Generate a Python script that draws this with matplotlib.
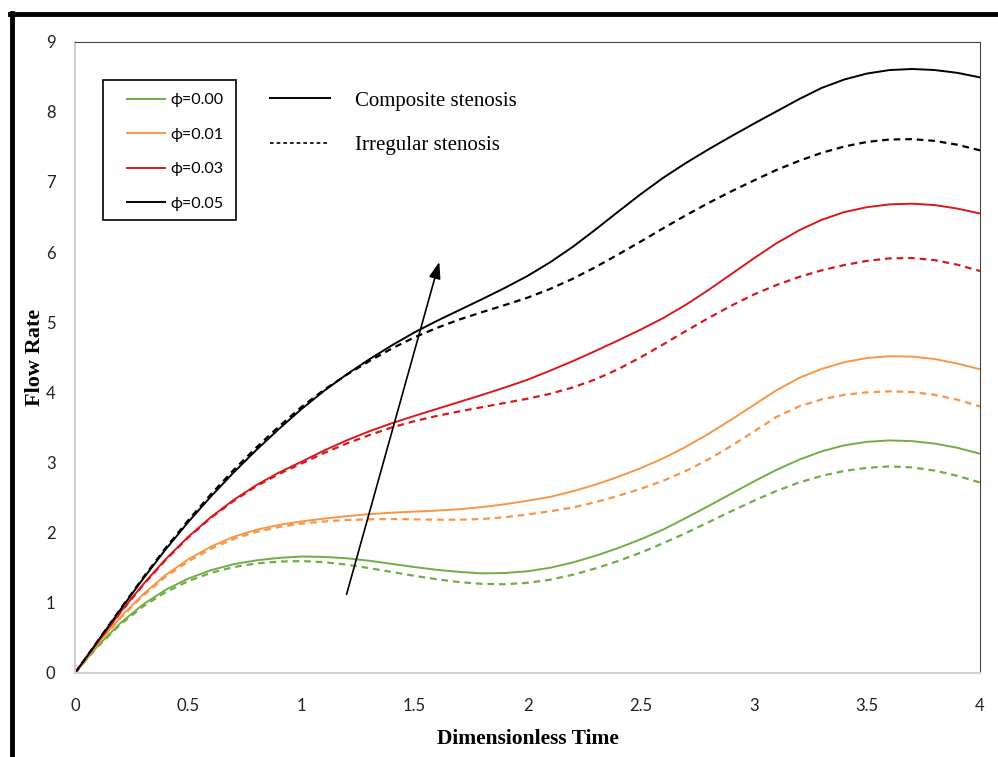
import matplotlib
matplotlib.use("Agg")
import matplotlib.pyplot as plt
from matplotlib.lines import Line2D
from matplotlib.patches import Rectangle

# ---------------------------------------------------------------
# Data
# ---------------------------------------------------------------
temps = [0.0, 0.1, 0.2, 0.3, 0.4, 0.5, 0.6, 0.7, 0.8, 0.9,
         1.0, 1.1, 1.2, 1.3, 1.4, 1.5, 1.6, 1.7, 1.8, 1.9,
         2.0, 2.1, 2.2, 2.3, 2.4, 2.5, 2.6, 2.7, 2.8, 2.9,
         3.0, 3.1, 3.2, 3.3, 3.4, 3.5, 3.6, 3.7, 3.8, 3.9, 4.0]

# composite stenosis (solid)
comp_000 = [0, 0.385, 0.71, 0.975, 1.185, 1.345, 1.465, 1.55, 1.605, 1.64,
            1.66, 1.655, 1.635, 1.60, 1.555, 1.51, 1.47, 1.44, 1.42, 1.425,
            1.45, 1.50, 1.575, 1.67, 1.78, 1.905, 2.045, 2.21, 2.38, 2.555,
            2.73, 2.895, 3.04, 3.16, 3.245, 3.295, 3.315, 3.305, 3.27, 3.21, 3.125]
comp_001 = [0, 0.42, 0.795, 1.12, 1.395, 1.62, 1.80, 1.94, 2.04, 2.11,
            2.16, 2.20, 2.235, 2.265, 2.285, 2.30, 2.315, 2.335, 2.365, 2.405,
            2.455, 2.51, 2.59, 2.685, 2.795, 2.92, 3.06, 3.225, 3.41, 3.61,
            3.82, 4.03, 4.205, 4.335, 4.43, 4.49, 4.515, 4.51, 4.475, 4.41, 4.33]
comp_003 = [0, 0.44, 0.865, 1.26, 1.62, 1.94, 2.22, 2.465, 2.675, 2.855,
            3.01, 3.17, 3.315, 3.445, 3.56, 3.665, 3.765, 3.865, 3.965, 4.07,
            4.18, 4.31, 4.445, 4.59, 4.74, 4.895, 5.06, 5.25, 5.46, 5.685,
            5.91, 6.125, 6.31, 6.46, 6.57, 6.64, 6.68, 6.69, 6.67, 6.62, 6.55]
comp_005 = [0, 0.45, 0.90, 1.34, 1.76, 2.15, 2.515, 2.855, 3.175, 3.475,
            3.76, 4.02, 4.255, 4.47, 4.67, 4.855, 5.02, 5.175, 5.33, 5.49,
            5.66, 5.855, 6.075, 6.32, 6.575, 6.825, 7.06, 7.27, 7.465, 7.65,
            7.83, 8.005, 8.18, 8.34, 8.46, 8.545, 8.595, 8.61, 8.595, 8.555, 8.49]

# irregular stenosis (dashed)
irr_000 = [0, 0.375, 0.69, 0.948, 1.151, 1.309, 1.427, 1.509, 1.561, 1.588,
           1.595, 1.58, 1.545, 1.495, 1.44, 1.385, 1.335, 1.295, 1.27, 1.265,
           1.285, 1.33, 1.40, 1.49, 1.595, 1.715, 1.85, 1.995, 2.15, 2.305,
           2.455, 2.595, 2.715, 2.81, 2.88, 2.925, 2.945, 2.93, 2.885, 2.81, 2.715]
irr_001 = [0, 0.41, 0.78, 1.10, 1.37, 1.59, 1.77, 1.91, 2.01, 2.08,
           2.13, 2.16, 2.18, 2.19, 2.195, 2.19, 2.185, 2.185, 2.195, 2.22,
           2.26, 2.305, 2.36, 2.435, 2.525, 2.625, 2.74, 2.88, 3.045, 3.235,
           3.44, 3.65, 3.80, 3.90, 3.965, 4.00, 4.015, 4.005, 3.965, 3.895, 3.80]
irr_003 = [0, 0.44, 0.86, 1.25, 1.61, 1.93, 2.21, 2.45, 2.66, 2.835,
           2.985, 3.135, 3.27, 3.39, 3.50, 3.59, 3.665, 3.73, 3.79, 3.85,
           3.91, 3.98, 4.07, 4.185, 4.33, 4.50, 4.685, 4.875, 5.06, 5.235,
           5.395, 5.53, 5.645, 5.74, 5.815, 5.875, 5.91, 5.915, 5.885, 5.82, 5.73]
irr_005 = [0, 0.455, 0.91, 1.355, 1.78, 2.175, 2.545, 2.89, 3.21, 3.51,
           3.79, 4.035, 4.25, 4.445, 4.625, 4.785, 4.92, 5.04, 5.145, 5.245,
           5.35, 5.475, 5.62, 5.785, 5.965, 6.15, 6.34, 6.525, 6.70, 6.865,
           7.02, 7.17, 7.30, 7.415, 7.505, 7.57, 7.605, 7.61, 7.585, 7.53, 7.45]

labels_phi = ["ϕ=0.00", "ϕ=0.01", "ϕ=0.03", "ϕ=0.05"]
labels_type = ["Composite stenosis", "Irregular stenosis"]
couleurs = ["#70ad47", "#f79646", "#d7191c", "#000000"]
x_ticks = [0, 0.5, 1, 1.5, 2, 2.5, 3, 3.5, 4]
x_ticklabels = ["0", "0.5", "1", "1.5", "2", "2.5", "3", "3.5", "4"]
y_ticks = [0, 1, 2, 3, 4, 5, 6, 7, 8, 9]

# arrow (data coordinates)
fleche_debut = (1.20, 1.12)
fleche_fin = (1.61, 5.86)

# ---------------------------------------------------------------
# Figure
# ---------------------------------------------------------------
fig = plt.figure(figsize=(9.98, 7.57), dpi=100)
ax = fig.add_axes([0.0752, 0.111, 0.9068, 0.834])

composite = [comp_000, comp_001, comp_003, comp_005]
irregular = [irr_000, irr_001, irr_003, irr_005]

for serie, c in zip(composite, couleurs):
    ax.plot(temps, serie, color=c, lw=1.4, solid_joinstyle="round")
for serie, c in zip(irregular, couleurs):
    ax.plot(temps, serie, color=c, lw=1.6, linestyle=(0, (3, 2.2)))

ax.annotate("", xy=fleche_fin, xytext=fleche_debut,
            arrowprops=dict(arrowstyle="-|>,head_length=1.0,head_width=0.35",
                            color="black", lw=1.2, shrinkA=0, shrinkB=0))

ax.set_xlim(0, 4)
ax.set_ylim(0, 9)
ax.set_xticks(x_ticks)
ax.set_xticklabels(x_ticklabels)
ax.set_yticks(y_ticks)
ax.tick_params(length=0, labelsize=12, labelcolor="#222222")
ax.tick_params(axis="x", pad=18)
ax.tick_params(axis="y", pad=14)
for lab in ax.get_xticklabels() + ax.get_yticklabels():
    lab.set_family("Lato")

ax.spines["left"].set_color("#d0d0d0")
ax.spines["bottom"].set_color("#d0d0d0")
ax.spines["left"].set_linewidth(1.5)
ax.spines["bottom"].set_linewidth(1.5)
ax.spines["top"].set_color("#444444")
ax.spines["right"].set_color("#444444")

ax.set_xlabel("Dimensionless Time", family="Liberation Serif", fontweight="bold",
              fontsize=15.5, labelpad=11)
ax.set_ylabel("Flow Rate", family="Liberation Serif", fontweight="bold",
              fontsize=16, labelpad=1)

# Legend 1: phi values (box drawn separately)
ax.add_patch(Rectangle((0.0309, 0.7173), 0.147, 0.2217, transform=ax.transAxes,
                       fill=False, edgecolor="black", lw=1.2, zorder=5))
h1 = [Line2D([], [], color=c, lw=1.4) for c in couleurs]
leg1 = ax.legend(h1, labels_phi, loc="upper left", bbox_to_anchor=(0.0575, 0.9187),
                 borderaxespad=0, borderpad=0, frameon=False,
                 prop={"family": "Lato", "size": 11.6}, handlelength=2.36,
                 handletextpad=0.3, labelspacing=1.26)
ax.add_artist(leg1)

# Legend 2: line style
h2 = [Line2D([], [], color="black", lw=1.4),
      Line2D([], [], color="black", lw=1.2, linestyle=(0, (2.2, 1.8)))]
ax.legend(h2, labels_type, loc="upper left",
          bbox_to_anchor=(0.2155, 0.9217), borderaxespad=0, borderpad=0, frameon=False,
          prop={"family": "Liberation Serif", "size": 15}, handlelength=2.9,
          handletextpad=1.2, labelspacing=1.18)

# outer black frame (left and top only visible)
fig.add_artist(Line2D([0.0120, 0.0120], [0.0, 0.983], transform=fig.transFigure,
                      color="black", lw=3.5))
fig.add_artist(Line2D([0.0105, 1.0], [0.982, 0.982], transform=fig.transFigure,
                      color="black", lw=3.5))

fig.savefig("out.png", dpi=100)
